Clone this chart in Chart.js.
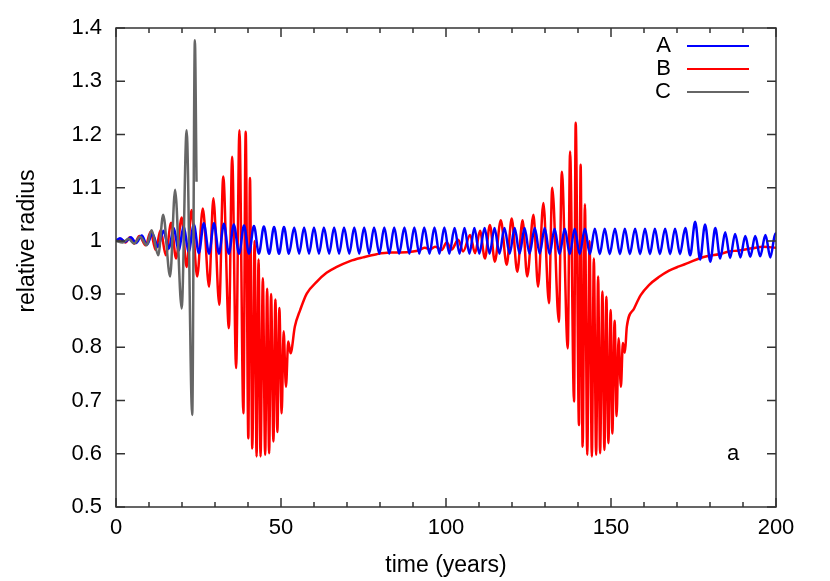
<!DOCTYPE html>
<html>
<head>
<meta charset="utf-8">
<script src="https://cdn.jsdelivr.net/npm/chart.js@4.4.1/dist/chart.umd.min.js"></script>
<style>
  html, body { margin: 0; padding: 0; background: #fff; }
  #wrap { width: 830px; height: 581px; }
</style>
</head>
<body>
<div id="wrap"><canvas id="radiusChart" width="830" height="581"></canvas></div>
<script>
// A: peaks and troughs (years, relative radius)
const timeA = [0,
  1.2, 2.8, 4.5, 6.1, 7.8, 9.4, 11.0, 12.7, 14.4, 16.0,
  17.5, 19.0, 20.5, 22.0, 23.6, 25.1, 26.6, 28.2, 29.7, 31.2,
  32.7, 34.2, 35.7, 37.3, 38.8, 40.3, 41.8, 43.3, 44.8, 46.4,
  47.9, 49.4, 50.9, 52.4, 54.0, 55.5, 57.0, 58.5, 60.0, 61.5,
  63.0, 64.6, 66.1, 67.6, 69.1, 70.7, 72.2, 73.7, 75.2, 76.7,
  78.2, 79.8, 81.3, 82.8, 84.3, 85.8, 87.4, 88.9, 90.4, 91.9,
  93.4, 95.0, 96.5, 98.0, 99.5, 101.0, 102.6, 104.1, 105.6, 107.1,
  108.6, 110.1, 111.7, 113.2, 114.7, 116.2, 117.7, 119.3, 120.8, 122.3,
  123.8, 125.3, 126.9, 128.4, 129.9, 131.4, 132.9, 134.4, 136.0, 137.5,
  139.0, 140.5, 142.1, 143.6, 145.1, 146.6, 148.1, 149.6, 151.2, 152.7,
  154.2, 155.7, 157.3, 158.8, 160.3, 161.8, 163.3, 164.8, 166.4, 167.9,
  169.4, 170.9, 172.5, 174.0, 175.5, 177.0, 178.5, 180.1, 181.6, 183.1,
  184.6, 186.1, 187.6, 189.2, 190.7, 192.2, 193.7, 195.2, 196.8, 198.3,
  199.8, 200];
const radiusA = [1.000,
  1.005, 0.998, 1.007, 0.996, 1.010, 0.993, 1.014, 0.989, 1.019, 0.985,
  1.024, 0.981, 1.028, 0.979, 1.031, 0.977, 1.033, 0.976, 1.033, 0.976,
  1.032, 0.976, 1.031, 0.976, 1.029, 0.976, 1.028, 0.976, 1.027, 0.976,
  1.026, 0.976, 1.026, 0.976, 1.025, 0.976, 1.025, 0.976, 1.025, 0.976,
  1.025, 0.976, 1.025, 0.976, 1.025, 0.976, 1.025, 0.976, 1.025, 0.976,
  1.025, 0.976, 1.025, 0.976, 1.025, 0.976, 1.025, 0.976, 1.025, 0.976,
  1.025, 0.976, 1.025, 0.976, 1.025, 0.976, 1.024, 0.976, 1.024, 0.976,
  1.024, 0.976, 1.024, 0.976, 1.024, 0.976, 1.024, 0.976, 1.024, 0.976,
  1.024, 0.976, 1.024, 0.976, 1.024, 0.975, 1.023, 0.975, 1.023, 0.975,
  1.023, 0.975, 1.023, 0.975, 1.023, 0.975, 1.023, 0.975, 1.023, 0.975,
  1.023, 0.975, 1.023, 0.975, 1.023, 0.975, 1.023, 0.975, 1.023, 0.975,
  1.023, 0.975, 1.024, 0.973, 1.036, 0.965, 1.031, 0.961, 1.024, 0.967,
  1.016, 0.968, 1.013, 0.969, 1.009, 0.970, 1.009, 0.971, 1.011, 0.969,
  1.014, 1.014];

// B
const timeB = [0, 1.5, 2.9, 4.2, 5.6, 7.1, 9.0, 10.5, 12.0, 13.5,
  15.1, 16.7, 18.2, 19.9, 21.4, 22.9, 24.6, 26.3, 28.2, 29.5,
  31.3, 32.5, 34.2, 35.2, 36.4, 37.4, 38.6, 39.3, 40.1, 40.6,
  41.3, 42.0, 42.6, 43.2, 43.8, 44.5, 45.2, 45.8, 46.4, 47.0,
  47.7, 48.3, 48.9, 49.5, 50.2, 50.8, 51.5, 52.2, 52.9, 54.2,
  55.8, 57.8, 60.8, 63.8, 66.9, 70.9, 74.9, 79.0, 83.0, 86.1,
  90.0, 92.0, 93.6, 95.2, 96.7, 98.7, 100.2, 101.7, 103.7, 105.2,
  107.3, 108.8, 110.3, 111.8, 113.3, 114.8, 116.6, 118.4, 119.9, 121.6,
  123.2, 124.6, 126.5, 127.9, 129.5, 131.2, 132.2, 134.2, 135.1, 136.9,
  137.6, 138.8, 139.3, 140.3, 140.8, 141.4, 142.1, 142.8, 143.5, 144.2,
  144.8, 145.5, 146.1, 146.7, 147.4, 148.0, 148.6, 149.2, 149.9, 150.4,
  151.1, 151.7, 152.3, 153.0, 153.6, 154.2, 154.8, 157.0, 159.0, 161.5,
  164.5, 167.6, 170.6, 173.6, 176.7, 179.7, 182.7, 185.8, 188.8, 192.8,
  196.2, 200];
const radiusB = [1.000, 1.003, 0.997, 1.007, 0.995, 1.009, 0.992, 1.017, 0.983, 1.020,
  0.973, 1.034, 0.967, 1.044, 0.951, 1.058, 0.933, 1.061, 0.914, 1.080,
  0.880, 1.121, 0.836, 1.158, 0.761, 1.208, 0.676, 1.205, 0.629, 1.118,
  0.610, 1.000, 0.595, 0.965, 0.595, 0.930, 0.598, 0.910, 0.601, 0.900,
  0.623, 0.890, 0.641, 0.874, 0.676, 0.830, 0.726, 0.811, 0.789, 0.839,
  0.870, 0.901, 0.923, 0.940, 0.951, 0.962, 0.969, 0.975, 0.978, 0.978,
  0.980, 0.983, 0.987, 0.984, 0.989, 0.983, 0.997, 0.984, 1.002, 0.980,
  1.011, 0.977, 1.019, 0.967, 1.030, 0.961, 1.039, 0.955, 1.042, 0.942,
  1.039, 0.933, 1.049, 0.914, 1.071, 0.883, 1.100, 0.848, 1.130, 0.798,
  1.168, 0.698, 1.222, 0.654, 1.143, 0.613, 1.069, 0.598, 1.000, 0.595,
  0.967, 0.598, 0.933, 0.601, 0.905, 0.607, 0.895, 0.620, 0.870, 0.638,
  0.850, 0.671, 0.817, 0.726, 0.808, 0.790, 0.839, 0.873, 0.898, 0.917,
  0.932, 0.944, 0.952, 0.959, 0.967, 0.972, 0.975, 0.980, 0.982, 0.986,
  0.989, 0.987];

// C (stops after ~24 years)
const timeC = [0, 2.0, 3.8, 5.5, 7.3, 9.3, 10.8, 12.8, 14.3, 16.4, 17.9, 19.9, 21.4, 23.1, 23.9, 24.4];
const radiusC = [1.000, 0.997, 1.004, 0.995, 1.008, 0.992, 1.020, 0.973, 1.049, 0.933, 1.096, 0.873, 1.208, 0.673, 1.377, 1.111];

const seriesNames = ['A', 'B', 'C'];
const seriesColors = ['#0000ff', '#ff0000', '#666666'];
const xTicks = [0, 50, 100, 150, 200];
const yTicks = [0.5, 0.6, 0.7, 0.8, 0.9, 1.0, 1.1, 1.2, 1.3, 1.4];

const FONT = "'Liberation Sans', Arial, Helvetica, sans-serif";

function toPoints(t, r) {
  return t.map((x, i) => ({ x: x, y: r[i] }));
}

// gnuplot look: closed frame, ticks pointing inwards, key top right, panel letter
const framePlugin = {
  id: 'frame',
  afterDraw(chart) {
    const { ctx, chartArea: a, scales } = chart;
    const xs = scales.x, ys = scales.y;
    ctx.save();
    ctx.strokeStyle = '#333';
    ctx.lineWidth = 1.5;
    ctx.strokeRect(a.left, a.top, a.right - a.left, a.bottom - a.top);
    ctx.beginPath();
    for (let v = 0; v <= 200; v += 10) {
      const px = xs.getPixelForValue(v);
      const len = v % 50 === 0 ? 9 : 5;
      ctx.moveTo(px, a.bottom); ctx.lineTo(px, a.bottom - len);
      ctx.moveTo(px, a.top); ctx.lineTo(px, a.top + len);
    }
    yTicks.forEach(v => {
      const py = ys.getPixelForValue(v);
      ctx.moveTo(a.left, py); ctx.lineTo(a.left + 9, py);
      ctx.moveTo(a.right, py); ctx.lineTo(a.right - 9, py);
    });
    ctx.stroke();

    // key
    ctx.font = '22px ' + FONT;
    ctx.fillStyle = '#000';
    ctx.textAlign = 'right';
    ctx.textBaseline = 'middle';
    seriesNames.forEach((name, i) => {
      const y = 46 + i * 23;
      ctx.fillText(name, 671, y);
      ctx.strokeStyle = seriesColors[i];
      ctx.lineWidth = 2;
      ctx.beginPath();
      ctx.moveTo(687, y); ctx.lineTo(749, y);
      ctx.stroke();
    });

    ctx.textAlign = 'center';
    ctx.fillText('a', xs.getPixelForValue(187), ys.getPixelForValue(0.6));

    // y label sits on the page centre, not the plot centre
    ctx.font = '23px ' + FONT;
    ctx.translate(28, 241);
    ctx.rotate(-Math.PI / 2);
    ctx.fillText('relative radius', 0, 0);
    ctx.restore();
  }
};

const ctx = document.getElementById('radiusChart').getContext('2d');
new Chart(ctx, {
  type: 'line',
  data: {
    datasets: [
      { label: seriesNames[0], data: toPoints(timeA, radiusA), borderColor: seriesColors[0], order: 1 },
      { label: seriesNames[1], data: toPoints(timeB, radiusB), borderColor: seriesColors[1], order: 2 },
      { label: seriesNames[2], data: toPoints(timeC, radiusC), borderColor: seriesColors[2], order: 0 }
    ]
  },
  options: {
    responsive: false,
    animation: false,
    devicePixelRatio: 1,
    layout: { padding: { top: 28, right: 54, left: 0, bottom: 0 } },
    elements: {
      line: { borderWidth: 2.5, cubicInterpolationMode: 'monotone', fill: false },
      point: { radius: 0 }
    },
    plugins: { legend: { display: false }, tooltip: { enabled: false } },
    scales: {
      x: {
        type: 'linear',
        min: 0,
        max: 200,
        grid: { display: false, drawTicks: false },
        border: { display: false },
        afterBuildTicks: s => { s.ticks = xTicks.map(v => ({ value: v })); },
        afterFit: s => { s.height = 74; },
        ticks: {
          font: { family: FONT, size: 22 },
          color: '#000',
          padding: 8,
          maxRotation: 0,
          autoSkip: false
        },
        title: {
          display: true,
          text: 'time (years)',
          font: { family: FONT, size: 23 },
          color: '#000',
          padding: { top: 0, bottom: 2 }
        }
      },
      y: {
        min: 0.5,
        max: 1.4,
        grid: { display: false, drawTicks: false },
        border: { display: false },
        afterBuildTicks: s => { s.ticks = yTicks.map(v => ({ value: v })); },
        afterFit: s => { s.width = 116; },
        ticks: {
          font: { family: FONT, size: 22 },
          color: '#000',
          padding: 14,
          callback: v => String(parseFloat(v.toFixed(1)))
        }
      }
    }
  },
  plugins: [framePlugin]
});
</script>
</body>
</html>
